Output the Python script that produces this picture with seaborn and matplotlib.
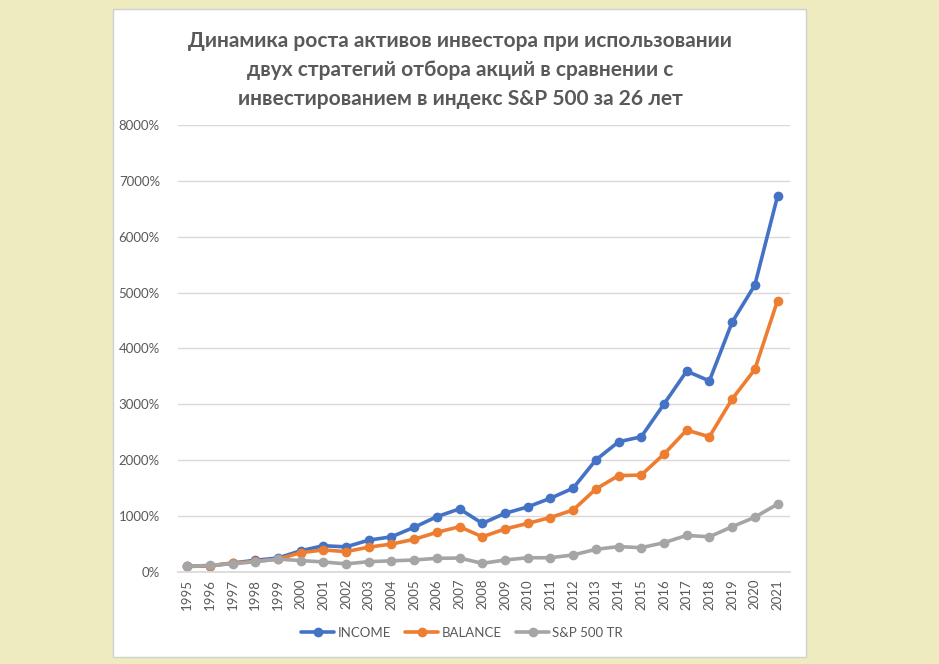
import pandas as pd
import seaborn as sns
import matplotlib.pyplot as plt
from matplotlib.patches import Rectangle

# Values (percent of initial capital)
years = list(range(1995, 2022))
income = [100, 110, 160, 210, 250, 380, 470, 450, 570, 630, 800, 990, 1130, 870,
          1050, 1165, 1320, 1500, 2005, 2330, 2420, 3005, 3595, 3420, 4470, 5135, 6725]
balance = [100, 110, 160, 190, 230, 345, 395, 365, 445, 500, 585, 710, 810, 630,
           770, 870, 975, 1110, 1485, 1725, 1735, 2110, 2540, 2420, 3095, 3625, 4855]
sp500 = [100, 120, 145, 185, 230, 205, 180, 145, 185, 200, 215, 245, 250, 155,
         215, 255, 255, 305, 405, 455, 435, 525, 655, 630, 810, 980, 1215]
series_names = ['INCOME', 'BALANCE', 'S&P 500 TR']
colors = ['#4472C4', '#ED7D31', '#A5A5A5']
title = ('Динамика роста активов инвестора при использовании\n'
         'двух стратегий отбора акций в сравнении с\n'
         'инвестированием в индекс S&P 500 за 26 лет')

df = pd.DataFrame({'Год': years * 3,
                   'Значение': income + balance + sp500,
                   'Стратегия': [s for s in series_names for _ in years]})

sns.set_theme(style='white')
plt.rcParams['font.family'] = ['Lato', 'DejaVu Sans']

fig = plt.figure(figsize=(9.39, 6.64), dpi=100)
fig.patch.set_facecolor('#EEEBBF')

# white chart panel like the Excel chart area
fig.add_artist(Rectangle((113 / 939, 1 - 657 / 664), (806 - 113) / 939, (657 - 9) / 664,
                         transform=fig.transFigure, facecolor='white',
                         edgecolor='#D0D0D0', lw=1, zorder=0))

ax = fig.add_axes([178 / 939, 92 / 664, (790 - 178) / 939, (572 - 125) / 664])
ax.set_facecolor('none')

sns.lineplot(data=df, x='Год', y='Значение', hue='Стратегия', hue_order=series_names,
             palette=colors, marker='o', markersize=7, markeredgewidth=0,
             linewidth=2.6, ax=ax, legend=True)

ax.set_xlim(1994.6, 2021.55)
ax.set_ylim(0, 8000)
ax.set_yticks(range(0, 8001, 1000))
ax.set_yticklabels([f'{v}%' for v in range(0, 8001, 1000)])
ax.set_xticks(years)
ax.set_xticklabels([str(y) for y in years], rotation=90)
ax.tick_params(axis='both', length=0, labelsize=9.5, labelcolor='#595959')
ax.tick_params(axis='y', pad=13)
ax.tick_params(axis='x', pad=5)
ax.yaxis.grid(True, color='#D9D9D9', lw=1)
ax.set_axisbelow(True)
for side in ['top', 'right', 'left']:
    ax.spines[side].set_visible(False)
ax.spines['bottom'].set_color('#D9D9D9')
ax.set_xlabel('')
ax.set_ylabel('')

fig.text(460 / 939, 1 - 70 / 664, title, ha='center', va='center',
         fontsize=15, fontweight='bold', color='#595959', linespacing=1.55)

handles, labels = ax.get_legend_handles_labels()
ax.legend(handles, labels, loc='center', bbox_to_anchor=(462 / 939, 1 - 633 / 664),
          bbox_transform=fig.transFigure, ncol=3, frameon=False, fontsize=9.5,
          labelcolor='#595959', handlelength=2.5, columnspacing=1.1, handletextpad=0.25)

fig.savefig('out.png', dpi=100, facecolor=fig.get_facecolor())
